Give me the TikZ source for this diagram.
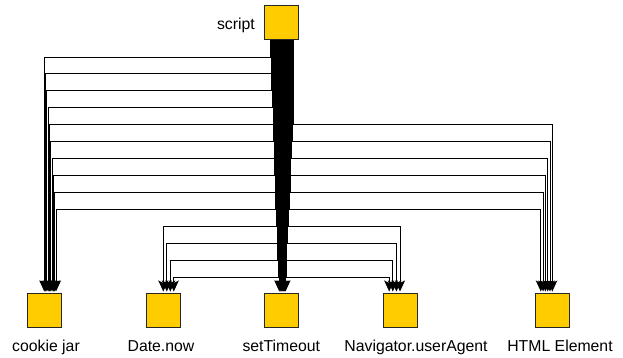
\documentclass[tikz,border=0pt]{standalone}
\usepackage{fontspec}
\setmainfont{Liberation Sans}
\usetikzlibrary{arrows.meta}
\definecolor{boxyellow}{RGB}{255,204,0}
\begin{document}
\begin{tikzpicture}[x=1pt,y=-1pt,
  box/.style={draw=black!85,line width=1pt,fill=boxyellow,minimum size=34pt,inner sep=0pt},
  lbl/.style={font=\fontsize{15.8}{18}\selectfont,inner sep=0pt,anchor=base},
  edge/.style={draw=black,line width=1pt,shorten >=1.5pt,-{Stealth[length=11pt,width=10pt,inset=2.5pt]}}]
\useasboundingbox (0,0) rectangle (623,357);
% boxes
\node[box] (script) at (281.5,22.5) {};
\node[box] (cookie) at (44.5,310.5) {};
\node[box] (date) at (163,310.5) {};
\node[box] (timeout) at (281.5,310.5) {};
\node[box] (nav) at (400,310.5) {};
\node[box] (html) at (552.5,310.5) {};
% labels
\node[lbl,anchor=base east] (lscript) at (255,29.5) {script};
\node[lbl] (lcookie) at (46,351.5) {cookie jar};
\node[lbl] (ldate) at (161,351.5) {Date.now};
\node[lbl] (ltimeout) at (281.3,351.5) {setTimeout};
\node[lbl] (lnav) at (416,351.5) {Navigator.userAgent};
\node[lbl] (lhtml) at (560,351.5) {HTML Element};
% script -> cookie jar
\foreach \i in {0,...,9} {
  \pgfmathsetmacro\xs{-10.7+0.56*\i}
  \pgfmathsetmacro\h{57+16.9*\i-40}
  \pgfmathsetmacro\xt{-0.2+1.3*\i}
  \draw[edge] ([xshift=\xs pt]script.south) -- ++(0,\h) -| ([xshift=\xt pt]cookie.north);
}
% script -> Date.now
\foreach \k in {0,...,3} {
  \pgfmathsetmacro\xs{-5.1+0.7*\k}
  \pgfmathsetmacro\h{226+17*\k-40}
  \pgfmathsetmacro\xt{0.3+3.5*\k}
  \draw[edge] ([xshift=\xs pt]script.south) -- ++(0,\h) -| ([xshift=\xt pt]date.north);
}
% script -> setTimeout
\foreach \n in {0,...,6} {
  \pgfmathsetmacro\xs{-2.2+1.03*\n}
  \draw[edge] ([xshift=\xs pt]script.south) -- ([xshift=\xs pt]timeout.north);
}
% script -> Navigator.userAgent
\foreach \k in {0,...,3} {
  \pgfmathsetmacro\xs{6.8-0.7*\k}
  \pgfmathsetmacro\h{226+17*\k-40}
  \pgfmathsetmacro\xt{-3.6*\k}
  \draw[edge] ([xshift=\xs pt]script.south) -- ++(0,\h) -| ([xshift=\xt pt]nav.north);
}
% script -> HTML Element
\foreach \j in {0,...,5} {
  \pgfmathsetmacro\xs{11.7-0.75*\j}
  \pgfmathsetmacro\h{124.6+16.9*\j-40}
  \pgfmathsetmacro\xt{-0.2-2.3*\j}
  \draw[edge] ([xshift=\xs pt]script.south) -- ++(0,\h) -| ([xshift=\xt pt]html.north);
}
\end{tikzpicture}
\end{document}
